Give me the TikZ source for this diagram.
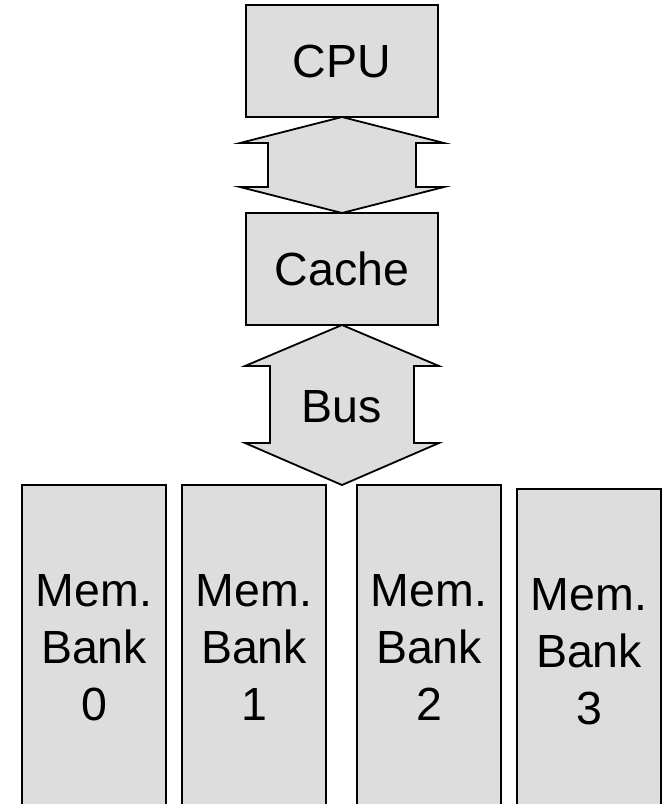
\documentclass[tikz,border=0pt]{standalone}
\usepackage{fontspec}
\setmainfont{Liberation Sans}
\usetikzlibrary{positioning}
\definecolor{boxfill}{HTML}{DDDDDD}

\begin{document}
\begin{tikzpicture}[x=1pt,y=-1pt,
  node distance=96pt and 16pt,
  unit/.style={draw,fill=boxfill,line width=1.8pt,inner sep=0pt,outer sep=0pt,
    font=\fontsize{46.5}{57}\selectfont,minimum width=192pt,minimum height=112pt},
  bank/.style={unit,align=center,minimum width=144pt,minimum height=325pt},
  blockarrow/.style={draw,fill=boxfill,line width=1.8pt,line join=miter}
]
\useasboundingbox (0,0) rectangle (668,804);
\clip (0,0) rectangle (668,804);

\node[unit] (cpu) at (342,61) {CPU};
\node[unit,below=of cpu] (cache) {Cache};

\node[bank,anchor=north west] (bank0) at (22,485) {Mem.\\Bank\\0};
\node[bank,right=of bank0] (bank1) {Mem.\\Bank\\1};
\node[bank,right=31pt of bank1] (bank2) {Mem.\\Bank\\2};
\node[bank,right=of bank2,yshift=-4pt] (bank3) {Mem.\\Bank\\3};

% cpu <-> cache
\draw[blockarrow] (cpu.south) -- ++(102,26) -- ++(-28,0) -- ++(0,44)
  -- ++(28,0) -- (cache.north) -- ++(-102,-26) -- ++(28,0) -- ++(0,-44)
  -- ++(-28,0) -- cycle;

% bus down to the banks
\coordinate (bustip) at (342,485);
\draw[blockarrow] (cache.south) -- ++(97,41) -- ++(-25,0) -- ++(0,77)
  -- ++(25,0) -- (bustip) -- ++(-97,-42) -- ++(25,0) -- ++(0,-77)
  -- ++(-25,0) -- cycle;
\node[font=\fontsize{46.5}{57}\selectfont] (bus) at (342,407) {Bus};
\end{tikzpicture}
\end{document}
